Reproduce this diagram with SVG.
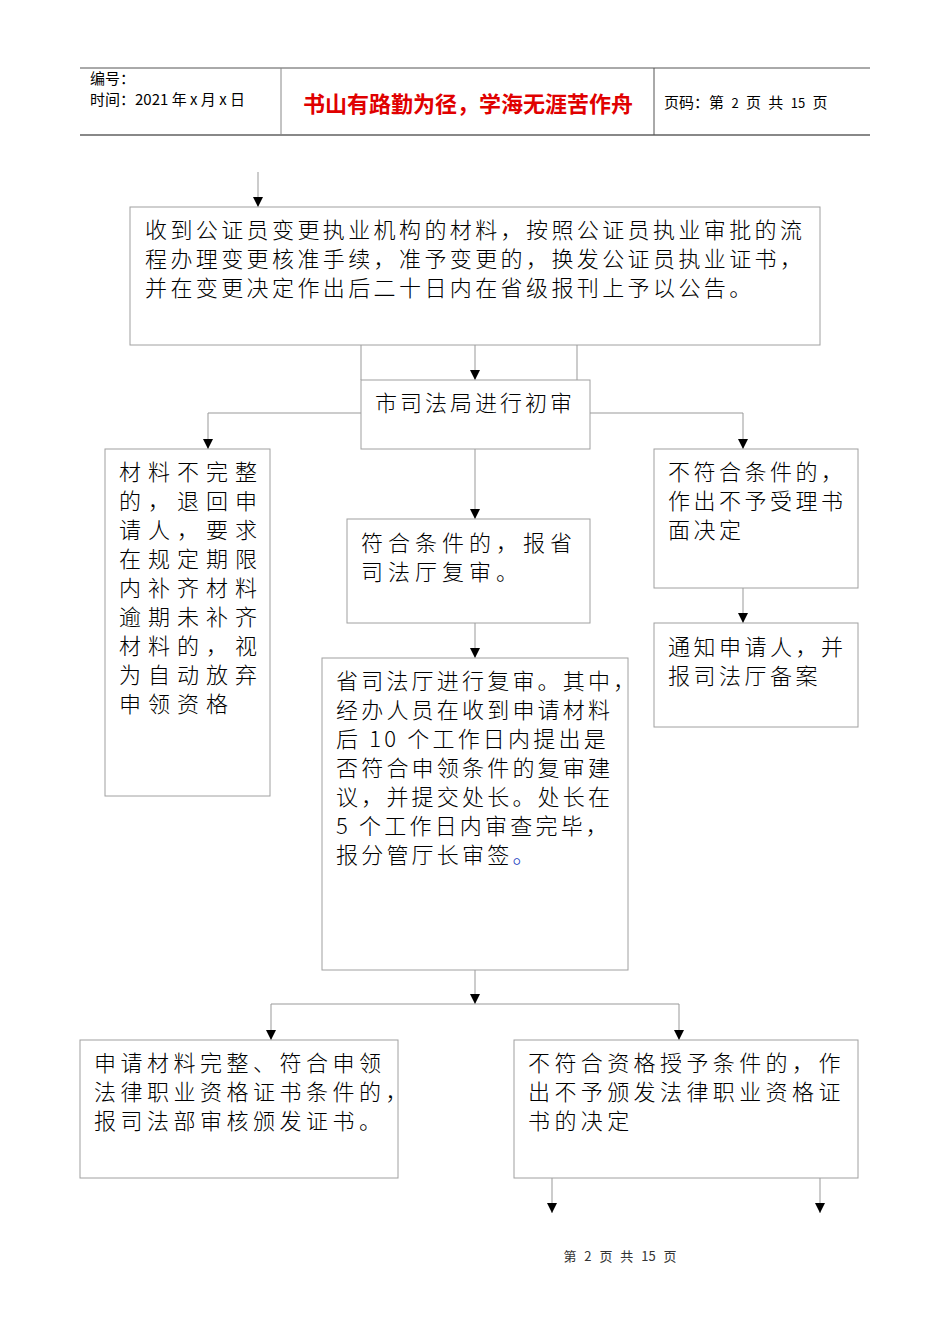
<svg xmlns="http://www.w3.org/2000/svg" width="950" height="1344" viewBox="0 0 950 1344">
<style>
.b{fill:#fff;stroke:#a0a0a0;stroke-width:1}
.c{stroke:#999;stroke-width:1;fill:none}
.t{font-family:"Noto Sans CJK SC","Liberation Serif",serif;font-size:22px;fill:#000;font-weight:300}
.h{font-family:"Noto Sans CJK SC","Liberation Sans",sans-serif;font-size:15px;fill:#000}
</style>
<defs>
<marker id="d" viewBox="0 0 10 10" markerWidth="10" markerHeight="10" refX="10" refY="5" orient="auto" markerUnits="userSpaceOnUse"><path d="M0,0 L10,5 L0,10 Z" fill="#000"/></marker></defs>
<g id="header">
<line x1="80" y1="68" x2="870" y2="68" stroke="#555"/>
<line x1="80" y1="135" x2="870" y2="135" stroke="#888" stroke-width="2"/>
<line x1="281" y1="68" x2="281" y2="135" stroke="#888"/>
<line x1="654" y1="68" x2="654" y2="135" stroke="#555"/>
<text class="h" x="90" y="84">编号：</text>
<text class="h" x="90" y="105">时间：2021 年 x 月 x 日</text>
<text x="468" y="112" text-anchor="middle" font-family="Noto Sans CJK SC,sans-serif" font-size="22" font-weight="bold" fill="#e00000">书山有路勤为径，学海无涯苦作舟</text>
<text class="h" x="664" y="108" word-spacing="4">页码：第 <tspan font-size="13">2</tspan> 页  共 <tspan font-size="13">15</tspan> 页</text>
</g>
<g id="connectors" class="c">
<line x1="258" y1="172" x2="258" y2="207" marker-end="url(#d)"/>
<line x1="361" y1="345" x2="361" y2="380"/>
<line x1="577" y1="345" x2="577" y2="380"/>
<line x1="475" y1="345" x2="475" y2="380" marker-end="url(#d)"/>
<polyline points="361,413 208,413 208,449" marker-end="url(#d)"/>
<polyline points="590,413 743,413 743,449" marker-end="url(#d)"/>
<line x1="475" y1="449" x2="475" y2="519" marker-end="url(#d)"/>
<line x1="743" y1="588" x2="743" y2="623" marker-end="url(#d)"/>
<line x1="475" y1="623" x2="475" y2="658" marker-end="url(#d)"/>
<line x1="475" y1="970" x2="475" y2="1004" marker-end="url(#d)"/>
<line x1="271" y1="1004" x2="679" y2="1004"/>
<line x1="271" y1="1004" x2="271" y2="1040" marker-end="url(#d)"/>
<line x1="679" y1="1004" x2="679" y2="1040" marker-end="url(#d)"/>
<line x1="552" y1="1178" x2="552" y2="1213" marker-end="url(#d)"/>
<line x1="820" y1="1178" x2="820" y2="1213" marker-end="url(#d)"/>
</g>
<g id="n1"><rect class="b" x="130" y="207" width="690" height="138"/>
<text class="t" x="145" y="238" letter-spacing="3.4">收到公证员变更执业机构的材料，按照公证员执业审批的流</text>
<text class="t" x="145" y="267" letter-spacing="3.4">程办理变更核准手续，准予变更的，换发公证员执业证书，</text>
<text class="t" x="145" y="296" letter-spacing="3.4">并在变更决定作出后二十日内在省级报刊上予以公告。</text></g>
<g id="n2"><rect class="b" x="361" y="380" width="229" height="69"/>
<text class="t" x="375" y="411" letter-spacing="3">市司法局进行初审</text></g>
<g id="n3"><rect class="b" x="105" y="449" width="165" height="347"/>
<g class="t" letter-spacing="7">
<text x="119" y="480">材料不完整</text><text x="119" y="509">的，退回申</text><text x="119" y="538">请人，要求</text><text x="119" y="567">在规定期限</text><text x="119" y="596">内补齐材料</text><text x="119" y="625">逾期未补齐</text><text x="119" y="654">材料的，视</text><text x="119" y="683">为自动放弃</text><text x="119" y="712">申领资格</text></g></g>
<g id="n4"><rect class="b" x="347" y="519" width="243" height="104"/>
<text class="t" x="361" y="551" letter-spacing="5">符合条件的，报省</text>
<text class="t" x="361" y="580" letter-spacing="5">司法厅复审。</text></g>
<g id="n5"><rect class="b" x="654" y="449" width="204" height="139"/>
<text class="t" x="668" y="480" letter-spacing="3.5">不符合条件的，</text>
<text class="t" x="668" y="509" letter-spacing="3.5">作出不予受理书</text>
<text class="t" x="668" y="538" letter-spacing="3.5">面决定</text></g>
<g id="n6"><rect class="b" x="654" y="623" width="204" height="104"/>
<text class="t" x="668" y="655" letter-spacing="3.5">通知申请人，并</text>
<text class="t" x="668" y="684" letter-spacing="3.5">报司法厅备案</text></g>
<g id="n7"><rect class="b" x="322" y="658" width="306" height="312"/>
<g class="t" letter-spacing="3.2">
<text x="336" y="689">省司法厅进行复审。其中，</text>
<text x="336" y="718">经办人员在收到申请材料</text>
<text x="336" y="747">后 10 个工作日内提出是</text>
<text x="336" y="776">否符合申领条件的复审建</text>
<text x="336" y="805">议，并提交处长。处长在</text>
<text x="336" y="834">5 个工作日内审查完毕，</text>
<text x="336" y="863">报分管厅长审签<tspan fill="#2040c0">。</tspan></text></g></g>
<g id="n8"><rect class="b" x="80" y="1040" width="318" height="138"/>
<g class="t" letter-spacing="4.5">
<text x="94" y="1071">申请材料完整、符合申领</text>
<text x="94" y="1100">法律职业资格证书条件的，</text>
<text x="94" y="1129">报司法部审核颁发证书。</text></g></g>
<g id="n9"><rect class="b" x="514" y="1040" width="344" height="138"/>
<g class="t" letter-spacing="4.4">
<text x="528" y="1071">不符合资格授予条件的，作</text>
<text x="528" y="1100">出不予颁发法律职业资格证</text>
<text x="528" y="1129">书的决定</text></g></g>
<text x="620" y="1261" text-anchor="middle" font-family="Noto Sans CJK SC,sans-serif" font-size="13" fill="#333" word-spacing="5">第 2 页 共 15 页</text>
</svg>
